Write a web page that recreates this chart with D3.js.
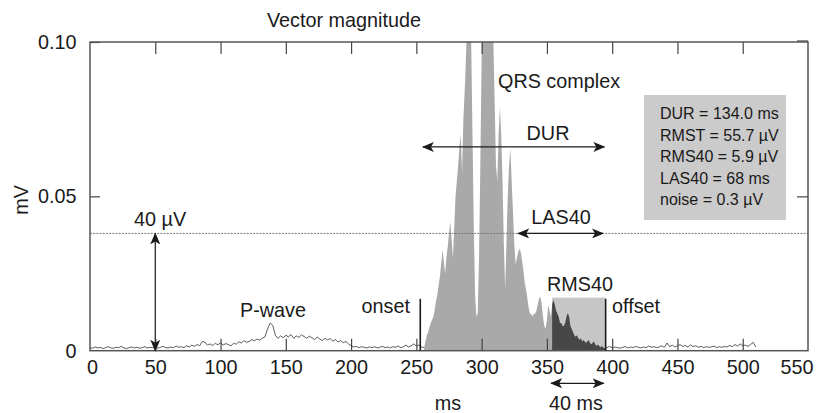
<!DOCTYPE html>
<html><head><meta charset="utf-8">
<script src="https://cdn.jsdelivr.net/npm/d3@7"></script>
<style>
html,body{margin:0;padding:0;background:#fff;}
svg text{font-family:"Liberation Sans",Arial,Helvetica,sans-serif;fill:#1a1a1a;}
</style></head>
<body>
<svg id="chart" width="818" height="413"></svg>
<script>
// ---------------- data ----------------
const xTicks = [0,50,100,150,200,250,300,350,400,450,500,550];
const yTicks = [0,0.05,0.10];
const yTickLabels = ["0","0.05","0.10"];

// pre-QRS noise trace, 0..254 ms every 2 ms (mV)
const preStart = 0, preStep = 2;
const preValues = [
0.0010,0.0008,0.0012,0.0009,0.0011,0.0007,0.0010,0.0013,0.0009,0.0008,
0.0011,0.0010,0.0014,0.0009,0.0007,0.0010,0.0012,0.0009,0.0011,0.0008,
0.0010,0.0013,0.0009,0.0011,0.0010,0.0012,0.0008,0.0011,0.0014,0.0010,
0.0009,0.0012,0.0010,0.0015,0.0011,0.0013,0.0010,0.0016,0.0012,0.0018,
0.0014,0.0020,0.0016,0.0030,0.0028,0.0018,0.0022,0.0017,0.0024,0.0019,
0.0026,0.0018,0.0023,0.0020,0.0016,0.0024,0.0021,0.0029,0.0025,0.0033,
0.0027,0.0030,0.0036,0.0032,0.0038,0.0034,0.0040,0.0045,0.0070,0.0090,
0.0082,0.0050,0.0040,0.0048,0.0042,0.0050,0.0045,0.0052,0.0040,0.0048,
0.0043,0.0051,0.0046,0.0040,0.0047,0.0042,0.0036,0.0044,0.0038,0.0033,
0.0040,0.0035,0.0039,0.0031,0.0036,0.0028,0.0033,0.0026,0.0030,0.0022,
0.0016,0.0012,0.0014,0.0010,0.0013,0.0011,0.0009,0.0012,0.0010,0.0013,
0.0009,0.0011,0.0014,0.0010,0.0012,0.0009,0.0013,0.0011,0.0015,0.0010,
0.0013,0.0018,0.0012,0.0016,0.0022,0.0015,0.0019,0.0012];

// QRS complex, 256..395 ms every 1 ms (mV)
const qrsStart = 256, qrsStep = 1;
const qrsValues = [
0.001,0.003,0.005,0.006,0.0075,0.009,0.010,0.011,0.013,0.016,
0.018,0.021,0.024,0.028,0.0326,0.029,0.025,0.030,0.0337,0.038,
0.0418,0.036,0.030,0.040,0.050,0.055,0.060,0.066,0.070,0.058,
0.075,0.084,0.095,0.110,0.125,0.115,0.100,0.070,0.040,0.018,
0.011,0.012,0.030,0.060,0.095,0.115,0.130,0.140,0.135,0.125,
0.130,0.120,0.110,0.100,0.080,0.060,0.055,0.070,0.079,0.070,
0.055,0.035,0.020,0.035,0.050,0.060,0.0656,0.055,0.045,0.035,
0.028,0.030,0.032,0.033,0.032,0.029,0.026,0.022,0.020,0.017,
0.014,0.012,0.012,0.011,0.012,0.012,0.013,0.015,0.017,0.0175,
0.015,0.011,0.008,0.007,0.010,0.0148,0.013,0.011,0.015,0.0164,
0.015,0.013,0.012,0.011,0.009,0.009,0.008,0.008,0.009,0.011,
0.0121,0.011,0.008,0.007,0.006,0.005,0.0045,0.005,0.004,0.0035,
0.004,0.003,0.0035,0.003,0.0025,0.003,0.0035,0.0025,0.002,0.0025,
0.003,0.002,0.0015,0.002,0.0015,0.001,0.0015,0.001,0.0008,0.0008];

// post-QRS noise trace, 396..510 ms every 2 ms (mV)
const postStart = 396, postStep = 2;
const postValues = [
0.0010,0.0014,0.0009,0.0012,0.0010,0.0008,0.0011,0.0013,0.0009,0.0012,
0.0010,0.0014,0.0011,0.0009,0.0012,0.0010,0.0015,0.0011,0.0013,0.0010,
0.0012,0.0016,0.0011,0.0025,0.0013,0.0018,0.0012,0.0016,0.0020,0.0014,
0.0017,0.0012,0.0019,0.0013,0.0016,0.0011,0.0014,0.0010,0.0013,0.0011,
0.0012,0.0015,0.0010,0.0013,0.0011,0.0014,0.0012,0.0017,0.0013,0.0020,
0.0015,0.0022,0.0016,0.0018,0.0014,0.0020,0.0027,0.0012];

// measurements / annotations
const onsetMs = 253, offsetMs = 395;
const rms40StartMs = 354;
const levelMv = 0.038;          // 40 µV noise-level line
const las40Range = [328, 393];
const durRange = [255, 394];
const durLevel = 0.066;
const rms40BoxTop = 0.0172;
const onsetLineTop = 0.0168;
const stats = ["DUR = 134.0 ms","RMST = 55.7 µV","RMS40 = 5.9 µV","LAS40 = 68 ms","noise = 0.3 µV"];

// ---------------- layout ----------------
const FS = 19.8;
const svg = d3.select("#chart");
const L = 90, R = 808, T = 42, B = 350.7;
const x = d3.scaleLinear().domain([0,550]).range([L,R]);
const y = d3.scaleLinear().domain([0,0.10]).range([B,T]);

const toPts = (start, step, vals) => vals.map((v,i)=>({t:start+i*step, v}));
const pre = toPts(preStart, preStep, preValues);
const qrs = toPts(qrsStart, qrsStep, qrsValues);
const post = toPts(postStart, postStep, postValues);

const defs = svg.append("defs");
defs.append("clipPath").attr("id","clip").append("rect")
  .attr("x",L).attr("y",T).attr("width",R-L).attr("height",B-T);
defs.append("marker").attr("id","arr").attr("viewBox","0 0 12 10")
  .attr("refX",11).attr("refY",5).attr("markerWidth",12).attr("markerHeight",10)
  .attr("markerUnits","userSpaceOnUse").attr("orient","auto-start-reverse")
  .append("path").attr("d","M0,0 L12,5 L0,10 L3,5 Z").attr("fill","#1a1a1a");

const plot = svg.append("g").attr("clip-path","url(#clip)");

// RMS40 box
plot.append("rect")
  .attr("x",x(rms40StartMs)).attr("y",y(rms40BoxTop))
  .attr("width",x(offsetMs)-x(rms40StartMs)).attr("height",B-y(rms40BoxTop))
  .attr("fill","#c6c6c6");

// QRS fill
const area = d3.area().x(d=>x(d.t)).y0(y(0)).y1(d=>y(d.v));
plot.append("path").datum(qrs).attr("d",area).attr("fill","#a9a9a9");
plot.append("path").datum(qrs.filter(d=>d.t>=rms40StartMs)).attr("d",area).attr("fill","#474747");

// noise traces
const line = d3.line().x(d=>x(d.t)).y(d=>y(d.v));
plot.append("path").datum(pre.concat([qrs[0]])).attr("d",line)
  .attr("fill","none").attr("stroke","#333").attr("stroke-width",0.8);
plot.append("path").datum([qrs[qrs.length-1]].concat(post)).attr("d",line)
  .attr("fill","none").attr("stroke","#333").attr("stroke-width",0.8);

// dotted 40 µV level
svg.append("line").attr("x1",L).attr("x2",R).attr("y1",y(levelMv)).attr("y2",y(levelMv))
  .attr("stroke","#777").attr("stroke-width",1).attr("stroke-dasharray","2,1.2");

// axes
const axG = svg.append("g").attr("class","axes");
const fmt = d=>yTickLabels[yTicks.indexOf(d)];
const gB = axG.append("g").attr("transform",`translate(0,${B})`)
  .call(d3.axisBottom(x).tickValues(xTicks).tickSize(-12).tickPadding(9));
const gT = axG.append("g").attr("transform",`translate(0,${T})`)
  .call(d3.axisTop(x).tickValues(xTicks).tickSize(-12).tickFormat(""));
const gL = axG.append("g").attr("transform",`translate(${L},0)`)
  .call(d3.axisLeft(y).tickValues(yTicks).tickSize(-10).tickPadding(13.5).tickFormat(fmt));
const gR = axG.append("g").attr("transform",`translate(${R},0)`)
  .call(d3.axisRight(y).tickValues([0.05,0.10]).tickSize(-11).tickFormat(""));
[gB,gT,gL,gR].forEach(g=>{
  g.select(".domain").remove();
  g.selectAll(".tick line").attr("stroke","#444").attr("stroke-width",1.2);
  g.selectAll("text").attr("font-size",FS).attr("fill","#1a1a1a")
    .attr("font-family",'"Liberation Sans",Arial,sans-serif');
});
gL.selectAll(".tick").filter(d=>d===0).select("line").remove();
gB.selectAll(".tick").filter(d=>d===0||d===550).select("line").remove();
gT.selectAll(".tick").filter(d=>d===0||d===550).select("line").remove();
gB.selectAll(".tick").filter(d=>d===550).select("text").attr("text-anchor","end").attr("x",5);
gB.selectAll(".tick").filter(d=>d===0).select("text").attr("x",2);
gR.selectAll(".tick").filter(d=>d===0.10).select("line").attr("transform","translate(0,-1.5)");

// frame
svg.append("rect").attr("x",L).attr("y",T).attr("width",R-L).attr("height",B-T)
  .attr("fill","none").attr("stroke","#555").attr("stroke-width",1.5);

// onset / offset lines
[onsetMs, offsetMs].forEach(t=>{
  svg.append("line").attr("x1",x(t)).attr("x2",x(t)).attr("y1",y(onsetLineTop)).attr("y2",B)
    .attr("stroke","#1a1a1a").attr("stroke-width",1.6);
});

// arrows
function arrow(x1,y1,x2,y2){
  svg.append("line").attr("x1",x1).attr("y1",y1).attr("x2",x2).attr("y2",y2)
    .attr("stroke","#1a1a1a").attr("stroke-width",1.2)
    .attr("marker-start","url(#arr)").attr("marker-end","url(#arr)");
}
arrow(x(durRange[0]), y(durLevel), x(durRange[1]), y(durLevel));
arrow(x(las40Range[0]), y(levelMv), x(las40Range[1]), y(levelMv));
arrow(x(50), y(levelMv), x(50), y(0));
arrow(x(rms40StartMs)-1, 383.3, x(offsetMs)-2, 383.3);

// texts
function txt(s, tx, ty, anchor, size){
  return svg.append("text").attr("x",tx).attr("y",ty).attr("text-anchor",anchor||"start")
    .attr("font-size",size||FS).text(s);
}
txt("Vector magnitude", 344, 27, "middle");
txt("QRS complex", 498, 88, "start");
txt("DUR", 548, 140, "middle");
txt("LAS40", 561, 224, "middle");
txt("RMS40", 580, 291, "middle");
txt("onset", 410, 313, "end");
txt("offset", 612, 313, "start");
txt("P-wave", 240, 317, "start");
txt("40 µV", 134, 226, "start");
txt("ms", 448, 410, "middle");
txt("40 ms", 576, 410, "middle");
svg.append("text").attr("transform","translate(28,200) rotate(-90)")
  .attr("text-anchor","middle").attr("font-size",FS).text("mV");

// stats box
svg.append("rect").attr("x",644).attr("y",95).attr("width",142).attr("height",125).attr("fill","#cbcbcb");
stats.forEach((s,i)=>txt(s, 660, 119+i*21.6, "start", 16));
</script>
</body></html>
